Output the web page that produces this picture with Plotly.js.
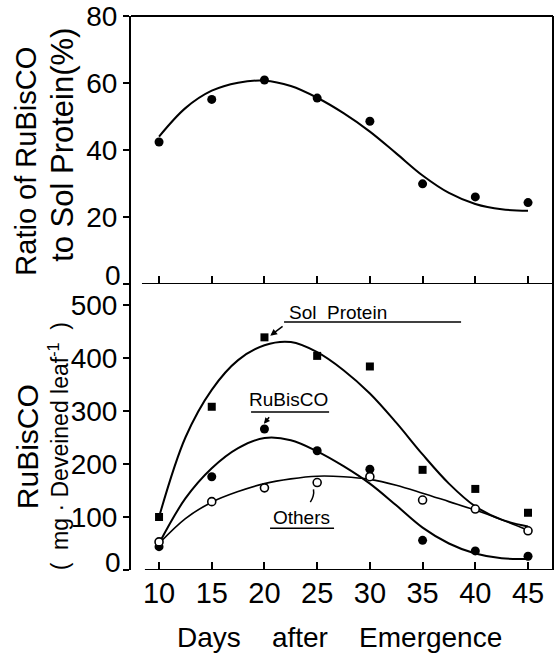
<!DOCTYPE html>
<html>
<head>
<meta charset="utf-8">
<script src="https://cdn.plot.ly/plotly-3.0.1.min.js"></script>
<style>html,body{margin:0;padding:0;background:#fff;}#chart{width:554px;height:654px;}</style>
</head>
<body>
<div id="chart"></div>
<script>
// ---- data ----
const days = [10, 15, 20, 25, 30, 35, 40, 45];
const ratioPct = [42.4, 55.1, 60.9, 55.5, 48.6, 29.9, 26, 24.3];

const fitDays = [10, 12.5, 15, 17.5, 20, 22.5, 25, 27.5, 30, 32.5, 35, 37.5, 40, 42.5, 45];
const ratioFit = [44, 52.5, 57.7, 60.1, 60.7, 59.1, 55.6, 51, 45.5, 39, 32.4, 27.2, 23.9, 22.3, 21.9];

const solProtein = [100, 308, 439, 404, 384, 189, 153, 108];
const rubisco = [44, 176, 266, 225, 190, 56, 36, 26];
const others = [53, 129, 155, 165, 176, 132, 115, 74];

const solFit = [100, 250, 340, 396, 424, 430, 411, 377, 333, 278, 218, 163, 120, 95, 82];
const rubiscoFit = [50, 135, 192, 230, 249, 245, 224, 196, 163, 122, 80, 50, 31, 22, 21];
const othersFit = [50, 97, 128, 148, 163, 172, 177, 176, 171, 160, 145, 129, 113, 95, 75];

const xTicks = [10, 15, 20, 25, 30, 35, 40, 45];
const yTicksTop = [0, 20, 40, 60, 80];
const yTicksBottom = [0, 100, 200, 300, 400, 500];

// ---- styling ----
const FONT = 'Liberation Sans, Arial, sans-serif';
const K = '#000';
const lineStyle = {color: K, width: 2, shape: 'spline', smoothing: 1};

const traces = [
  {x: fitDays, y: ratioFit, xaxis: 'x2', yaxis: 'y2', mode: 'lines', line: lineStyle},
  {x: days, y: ratioPct, xaxis: 'x2', yaxis: 'y2', mode: 'markers', marker: {symbol: 'circle', size: 9, color: K}},
  {x: fitDays, y: solFit, mode: 'lines', line: lineStyle},
  {x: fitDays, y: rubiscoFit, mode: 'lines', line: lineStyle},
  {x: fitDays, y: othersFit, mode: 'lines', line: {color: K, width: 1.6, shape: 'spline', smoothing: 1}},
  {x: days, y: solProtein, mode: 'markers', marker: {symbol: 'square', size: 8, color: K}},
  {x: days, y: rubisco, mode: 'markers', marker: {symbol: 'circle', size: 9, color: K}},
  {x: days, y: others, mode: 'markers', marker: {symbol: 'circle', size: 8, color: '#fff', line: {color: K, width: 1.6}}}
];

const xr = [7.34, 47.37];
const split = 0.5162;
const axisCommon = {showgrid: false, zeroline: false, color: K, tickcolor: K, tickwidth: 2};
// the "0" labels sit a little above their axis lines in the reference; drawn separately
const hideZero = v => v === 0 ? '' : String(v);

const layout = {
  width: 554, height: 654,
  margin: {l: 131, r: 1, t: 16, b: 84},
  paper_bgcolor: '#fff', plot_bgcolor: '#fff',
  showlegend: false,
  font: {family: FONT, color: K},
  xaxis: Object.assign({}, axisCommon, {
    domain: [0, 1], range: xr, anchor: 'y', showline: false,
    tickmode: 'array', tickvals: xTicks, ticktext: xTicks.map(String),
    ticks: 'inside', ticklen: 8, tickfont: {size: 29, family: FONT, color: K}, ticklabelstandoff: 3
  }),
  xaxis2: Object.assign({}, axisCommon, {
    domain: [0, 1], range: xr, anchor: 'y2', showline: false,
    tickmode: 'array', tickvals: xTicks, showticklabels: false,
    ticks: 'inside', ticklen: 8
  }),
  yaxis: Object.assign({}, axisCommon, {
    domain: [0, split], range: [0, 539.6], anchor: 'x',
    showline: true, linewidth: 2, linecolor: K,
    tickmode: 'array', tickvals: yTicksBottom, ticktext: yTicksBottom.map(hideZero),
    ticks: 'outside', ticklen: 6, tickfont: {size: 28, family: FONT, color: K}
  }),
  yaxis2: Object.assign({}, axisCommon, {
    domain: [split, 1], range: [0, 80], anchor: 'x2',
    showline: true, linewidth: 2, linecolor: K,
    tickmode: 'array', tickvals: yTicksTop, ticktext: yTicksTop.map(hideZero),
    ticks: 'outside', ticklen: 6, tickfont: {size: 28, family: FONT, color: K}
  }),
  shapes: [
    {type: 'line', xref: 'paper', yref: 'paper', x0: 0, x1: 1, y0: 1, y1: 1, line: {color: K, width: 2}},
    {type: 'line', xref: 'paper', yref: 'paper', x0: 1, x1: 1, y0: 0, y1: 1, line: {color: K, width: 2}},
    {type: 'line', xref: 'paper', yref: 'y2', x0: 0.026, x1: 1, y0: 0, y1: 0, line: {color: K, width: 2}},
    {type: 'line', xref: 'paper', yref: 'y', x0: 0.033, x1: 1, y0: 0, y1: 0, line: {color: K, width: 2}},
    {type: 'line', xref: 'x', yref: 'y', x0: 21.86, x1: 38.65, y0: 468, y1: 468, line: {color: K, width: 1.5}},
    {type: 'line', xref: 'x', yref: 'y', x0: 18.73, x1: 26.13, y0: 298, y1: 298, line: {color: K, width: 1.5}},
    {type: 'line', xref: 'x', yref: 'y', x0: 20.53, x1: 26.6, y0: 79, y1: 79, line: {color: K, width: 1.5}},
    {type: 'path', xref: 'x', yref: 'y', path: 'M 24.35,128 Q 24.75,140 24.65,152', line: {color: K, width: 1.5}}
  ],
  annotations: [
    {xref: 'paper', yref: 'paper', x: -0.019, y: (570 - 275) / 554, text: '0', showarrow: false,
     xanchor: 'right', yanchor: 'middle', font: {size: 28, family: FONT, color: K}},
    {xref: 'paper', yref: 'paper', x: -0.019, y: (570 - 562) / 554, text: '0', showarrow: false,
     xanchor: 'right', yanchor: 'middle', font: {size: 28, family: FONT, color: K}},
    {xref: 'paper', yref: 'paper', x: -0.2476, y: 0.738, text: 'Ratio of RuBisCO', textangle: -90, showarrow: false,
     xanchor: 'center', yanchor: 'middle', font: {size: 29, family: FONT, color: K}},
    {xref: 'paper', yref: 'paper', x: -0.164, y: 0.767, text: 'to Sol Protein(%)', textangle: -90, showarrow: false,
     xanchor: 'center', yanchor: 'middle', font: {size: 31, family: FONT, color: K}},
    {xref: 'paper', yref: 'paper', x: -0.246, y: 0.222, text: 'RuBisCO', textangle: -90, showarrow: false,
     xanchor: 'center', yanchor: 'middle', font: {size: 30, family: FONT, color: K}},
    {xref: 'paper', yref: 'paper', x: -0.172, y: 0.224, text: '(\u00a0\u00a0mg\u00a0·\u00a0Deveined\u00a0leaf<sup>-1</sup>\u00a0\u00a0)', textangle: -90, showarrow: false,
     xanchor: 'center', yanchor: 'middle', font: {size: 23, family: FONT, color: K}},
    {xref: 'paper', yref: 'paper', x: 0.494, y: -0.121, text: 'Days\u00a0\u00a0\u00a0\u00a0after\u00a0\u00a0\u00a0\u00a0Emergence', showarrow: false,
     xanchor: 'center', yanchor: 'middle', font: {size: 28, family: FONT, color: K}},
    {xref: 'x', yref: 'y', x: 26.93, y: 485, text: 'Sol\u00a0\u00a0Protein', showarrow: false, xanchor: 'center', yanchor: 'middle',
     font: {size: 19, family: FONT, color: K}},
    {xref: 'x', yref: 'y', x: 22.28, y: 321, text: 'RuBisCO', showarrow: false, xanchor: 'center', yanchor: 'middle',
     font: {size: 19, family: FONT, color: K}},
    {xref: 'x', yref: 'y', x: 23.56, y: 100, text: 'Others', showarrow: false, xanchor: 'center', yanchor: 'middle',
     font: {size: 19, family: FONT, color: K}},
    {xref: 'x', yref: 'y', axref: 'x', ayref: 'y', x: 20.55, y: 442, ax: 21.86, ay: 462, text: '', showarrow: true,
     arrowhead: 2, arrowsize: 0.9, arrowwidth: 1.5, arrowcolor: K},
    {xref: 'x', yref: 'y', axref: 'x', ayref: 'y', x: 19.95, y: 276, ax: 20.56, ay: 291, text: '', showarrow: true,
     arrowhead: 2, arrowsize: 0.8, arrowwidth: 1.5, arrowcolor: K}
  ]
};

Plotly.newPlot('chart', traces, layout, {staticPlot: true, displayModeBar: false});
</script>
</body>
</html>
